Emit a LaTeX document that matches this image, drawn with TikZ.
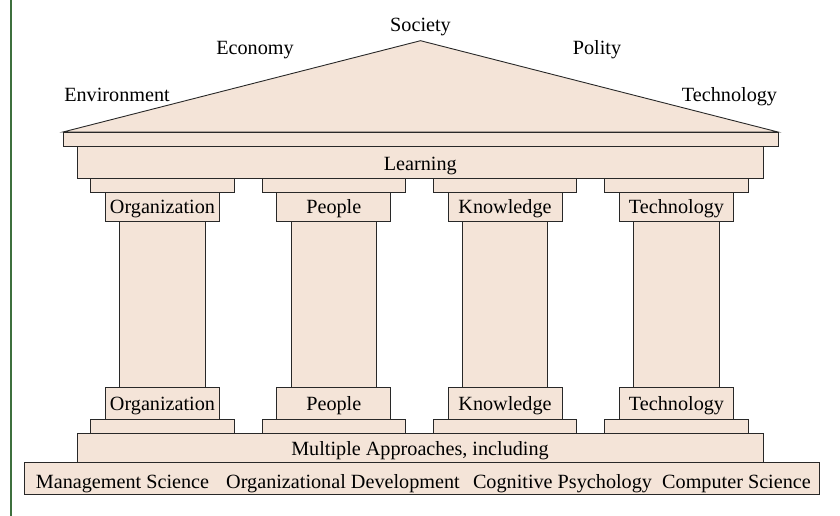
\documentclass[tikz,border=0pt]{standalone}
\usepackage{fontspec}
\setmainfont{Liberation Serif}
\definecolor{stone}{RGB}{244,228,216}
\definecolor{edge}{RGB}{40,40,40}
\definecolor{leaf}{RGB}{62,112,62}
\begin{document}
\begin{tikzpicture}[x=1pt,y=-1pt,
  part/.style={draw=edge,fill=stone,line width=0.9pt,inner sep=0pt,outer sep=0pt},
  lbl/.style={inner sep=0pt,anchor=base,font=\fontsize{20.2}{23}\selectfont},
  plate/.style={part,minimum width=143.5pt,minimum height=14pt},
  capbox/.style={part,minimum width=114pt},
  shaft/.style={part,minimum width=85.5pt,minimum height=166pt}]
\useasboundingbox (0,0) rectangle (840,516);
\draw[leaf,line width=2pt] (11,0) -- (11,516);
% roof
\coordinate (rl) at (63,132);
\coordinate (rt) at (420.5,40.7);
\coordinate (rr) at (778,132);
\draw[draw=edge,fill=stone,line width=0.9pt,line join=miter] (rl) -- (rt) -- (rr) -- cycle;
\node[part,minimum width=715pt,minimum height=14.5pt] (cornice) at (420.5,139.25) {};
\node[part,minimum width=686.5pt,minimum height=31.5pt] (learn) at (420.25,162.25) {};
\node[lbl] (learnt) at (420.25,170.5) {Learning};
% labels
\node[lbl] (soc) at (420.5,31.5) {Society};
\node[lbl] (eco) at (255,55) {Economy};
\node[lbl] (pol) at (597,55) {Polity};
\node[lbl] (env) at (117,102) {Environment};
\node[lbl] (tec) at (729.5,102) {Technology};
% pillars
\foreach \i/\cx/\t in {1/162.5/Organization,2/333.8/People,3/505/Knowledge,4/676.5/Technology}{
  \node[shaft] (s\i) at (\cx,304) {};
  \node[plate] (cp\i) at (\cx,185) {};
  \node[capbox,minimum height=29pt] (ct\i) at (\cx,206.5) {};
  \node[lbl] (ctt\i) at (\cx,213) {\t};
  \node[capbox,minimum height=32pt] (cb\i) at (\cx,403) {};
  \node[lbl] (cbt\i) at (\cx,410) {\t};
  \node[plate] (bp\i) at (\cx,426) {};
}
% base
\node[part,minimum width=686pt,minimum height=29pt] (multi) at (420,447.5) {};
\node[lbl] (multit) at (420,455) {Multiple Approaches, including};
\node[part,minimum width=795pt,minimum height=32pt] (found) at (421.5,478) {};
\node[lbl] (ms) at (122.5,488) {Management Science};
\node[lbl] (od) at (343,488) {Organizational Development};
\node[lbl] (cg) at (562.5,488) {Cognitive Psychology};
\node[lbl] (cs) at (736.5,488) {Computer Science};
\end{tikzpicture}
\end{document}
